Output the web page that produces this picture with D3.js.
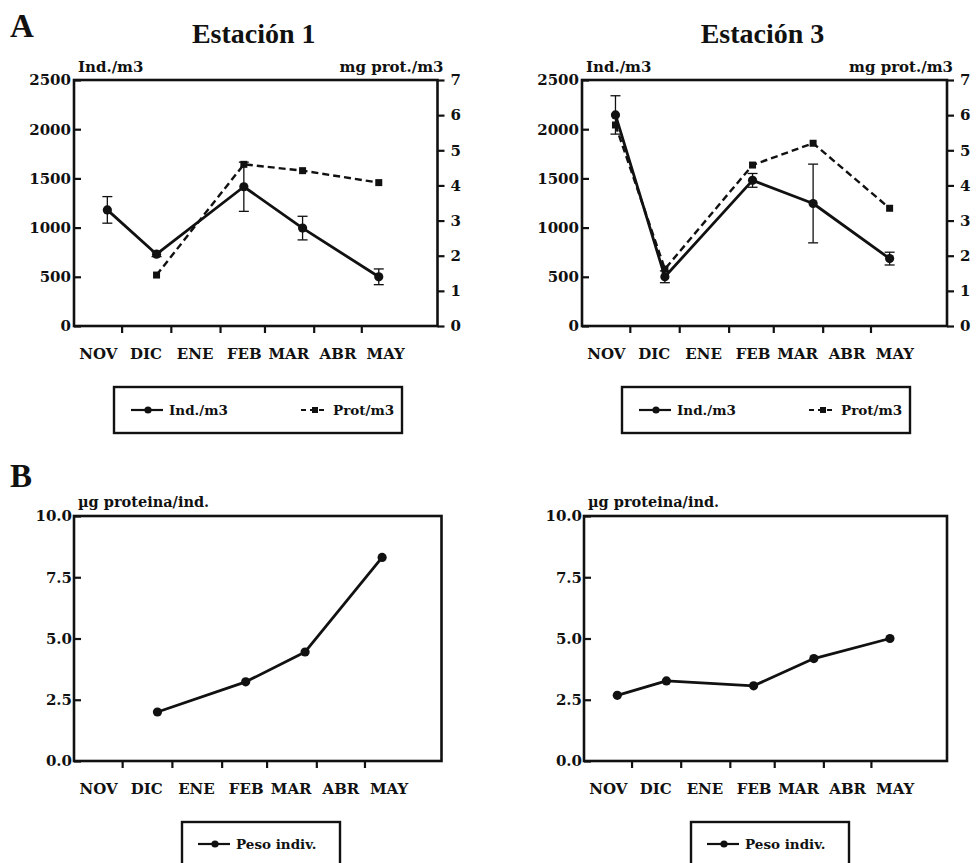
<!DOCTYPE html>
<html><head><meta charset="utf-8">
<script src="https://cdn.jsdelivr.net/npm/d3@7"></script>
<style>
body{margin:0;background:#fff}
svg{display:block}
</style>
</head><body><svg id="c" width="976" height="863"></svg>
<script>
// ---------- DATA ----------
const months = ["NOV","DIC","ENE","FEB","MAR","ABR","MAY"];
// sampling dates (season year is nominal; only day-of-season matters)
const datesInd1 = ["1990-11-22","1990-12-23","1991-02-16","1991-03-25","1991-05-12"];
const ind1 = [1180, 730, 1415, 995, 500];
const ind1Err = [135, 25, 250, 120, 80];
const datesProt1 = ["1990-12-23","1991-02-16","1991-03-25","1991-05-12"];
const prot1 = [1.45, 4.60, 4.42, 4.08];

const dates3 = ["1990-11-22","1990-12-23","1991-02-16","1991-03-26","1991-05-13"];
const ind3 = [2145, 500, 1480, 1245, 685];
const ind3Err = [195, 60, 70, 400, 65];
const prot3 = [5.72, 1.62, 4.58, 5.20, 3.35];

const datesPeso1 = ["1990-12-23","1991-02-16","1991-03-25","1991-05-12"];
const peso1 = [2.0, 3.23, 4.45, 8.31];
const datesPeso3 = ["1990-11-22","1990-12-23","1991-02-16","1991-03-26","1991-05-13"];
const peso3 = [2.68, 3.27, 3.07, 4.18, 5.0];

const indTicks = [0, 500, 1000, 1500, 2000, 2500];
const protTicks = [0, 1, 2, 3, 4, 5, 6, 7];
const pesoTicks = [0, 2.5, 5, 7.5, 10];
const titles = ["Estación 1", "Estación 3"];
const panelLetters = ["A", "B"];
const legendTop = ["Ind./m3", "Prot/m3"];
const legendBottom = ["Peso indiv."];
const yLabelInd = "Ind./m3", yLabelProt = "mg prot./m3", yLabelPeso = "µg proteina/ind.";

// ---------- SETUP ----------
const parse = d3.timeParse("%Y-%m-%d");
const seasonStart = parse("1990-11-01"), seasonEnd = parse("1991-06-18");
const monthBounds = d3.timeMonth.range(parse("1990-12-01"), parse("1991-05-02"));
const monthMids = months.map((m, i) => d3.timeDay.offset(d3.timeMonth.offset(seasonStart, i), 15));
const FONT = "DejaVu Serif", TFONT = "Liberation Serif";
const INK = "#111";

const svg = d3.select("#c");
svg.append("rect").attr("width", 976).attr("height", 863).attr("fill", "#fff");

function styleAxis(a, size) {
  a.attr("font-family", FONT).attr("font-size", size).attr("font-weight", "bold");
  a.select(".domain").remove();
  a.selectAll("line").attr("stroke", INK).attr("stroke-width", 2.2);
  a.selectAll("text").attr("fill", INK);
}

function panel(b) {
  const g = svg.append("g");
  const x = d3.scaleTime().domain([seasonStart, seasonEnd]).range([b.x0, b.x1]);
  g.append("g").attr("transform", `translate(0,${b.y1})`)
    .call(d3.axisBottom(x).tickValues(monthBounds).tickSize(7).tickFormat(""))
    .call(a => styleAxis(a, 15));
  g.append("g").attr("transform", `translate(0,${b.y1})`)
    .call(d3.axisBottom(x).tickValues(monthMids).tickSize(0).tickPadding(22).tickFormat((d, i) => months[i]))
    .call(a => styleAxis(a, 15));
  return {g, x};
}

function frame(g, b) {
  g.append("rect").attr("x", b.x0).attr("y", b.y0).attr("width", b.x1 - b.x0).attr("height", b.y1 - b.y0)
    .attr("fill", "none").attr("stroke", INK).attr("stroke-width", 2.6);
}

function text(g, x, y, s, size, anchor, fam) {
  return g.append("text").attr("x", x).attr("y", y).text(s)
    .attr("font-family", fam || FONT).attr("font-weight", "bold").attr("font-size", size)
    .attr("text-anchor", anchor || "start").attr("fill", INK);
}

function series(g, x, y, dates, vals, opts) {
  const pts = dates.map((d, i) => ({d: parse(d), v: vals[i], e: opts.err ? opts.err[i] : null}));
  const line = d3.line().x(p => x(p.d)).y(p => y(p.v));
  g.append("path").datum(pts).attr("d", line).attr("fill", "none").attr("stroke", INK)
    .attr("stroke-width", opts.dash ? 2.4 : 2.8).attr("stroke-dasharray", opts.dash ? "7,4" : null)
    .attr("stroke-linejoin", "round");
  if (opts.err) {
    const eg = g.append("g").attr("stroke", INK).attr("stroke-width", 1.3);
    pts.forEach(p => {
      const cx = x(p.d);
      eg.append("line").attr("x1", cx).attr("x2", cx).attr("y1", y(p.v - p.e)).attr("y2", y(p.v + p.e));
      [p.v - p.e, p.v + p.e].forEach(v => eg.append("line").attr("x1", cx - 5).attr("x2", cx + 5).attr("y1", y(v)).attr("y2", y(v)));
    });
  }
  if (opts.square) {
    g.selectAll(null).data(pts).join("rect").attr("x", p => x(p.d) - 3.5).attr("y", p => y(p.v) - 3.5)
      .attr("width", 7).attr("height", 7).attr("fill", INK);
  } else {
    g.selectAll(null).data(pts).join("circle").attr("cx", p => x(p.d)).attr("cy", p => y(p.v))
      .attr("r", 4.6).attr("fill", INK);
  }
}

function legendItem(g, x0, x1, y, dash, square, label) {
  g.append("line").attr("x1", x0).attr("x2", x1).attr("y1", y).attr("y2", y).attr("stroke", INK)
    .attr("stroke-width", 2.2).attr("stroke-dasharray", dash ? "5,4" : null);
  const cx = (x0 + x1) / 2 + 1;
  if (square) g.append("rect").attr("x", cx - 3).attr("y", y - 3).attr("width", 6).attr("height", 6).attr("fill", INK);
  else g.append("circle").attr("cx", cx).attr("cy", y).attr("r", 3.6).attr("fill", INK);
  text(g, x1 + 6, y + 5, label, 13.5);
}

// ---------- TOP PANELS (A) ----------
const topPanels = [
  {b: {x0: 74, x1: 437.5, y0: 80, y1: 326}, dInd: datesInd1, ind: ind1, err: ind1Err, dProt: datesProt1, prot: prot1, lx: 114},
  {b: {x0: 582, x1: 947, y0: 80, y1: 326}, dInd: dates3, ind: ind3, err: ind3Err, dProt: dates3, prot: prot3, lx: 622}
];
topPanels.forEach((p, k) => {
  const b = p.b;
  const {g, x} = panel(b);
  const yL = d3.scaleLinear().domain([0, 2500]).range([b.y1, b.y0]);
  const yR = d3.scaleLinear().domain([0, 7]).range([b.y1, b.y0]);
  g.append("g").attr("transform", `translate(${b.x0},0)`)
    .call(d3.axisLeft(yL).tickValues(indTicks).tickSize(-7).tickPadding(3).tickFormat(d3.format("d")))
    .call(a => styleAxis(a, 15));
  g.append("g").attr("transform", `translate(${b.x1},0)`)
    .call(d3.axisRight(yR).tickValues(protTicks).tickSize(7).tickPadding(6).tickFormat(d3.format("d")))
    .call(a => styleAxis(a, 15));
  frame(g, b);
  series(g, x, yR, p.dProt, p.prot, {dash: true, square: true});
  series(g, x, yL, p.dInd, p.ind, {err: p.err});
  text(g, b.x0 + 4, 72, yLabelInd, 15);
  text(g, b.x1 + 6, 72, yLabelProt, 15, "end");
  text(g, (b.x0 + b.x1) / 2 - 2, 43, titles[k], 28, "middle", TFONT);
  const ly = 387;
  g.append("rect").attr("x", p.lx).attr("y", ly).attr("width", 288).attr("height", 46)
    .attr("fill", "none").attr("stroke", INK).attr("stroke-width", 2.4);
  legendItem(g, p.lx + 17, p.lx + 49, ly + 23, false, false, legendTop[0]);
  legendItem(g, p.lx + 187, p.lx + 213, ly + 23, true, true, legendTop[1]);
});

// ---------- BOTTOM PANELS (B) ----------
const botPanels = [
  {b: {x0: 74, x1: 441.5, y0: 516, y1: 761}, d: datesPeso1, v: peso1, lx: 182},
  {b: {x0: 584, x1: 947, y0: 516, y1: 761}, d: datesPeso3, v: peso3, lx: 691}
];
botPanels.forEach(p => {
  const b = p.b;
  const {g, x} = panel(b);
  const y = d3.scaleLinear().domain([0, 10]).range([b.y1, b.y0]);
  g.append("g").attr("transform", `translate(${b.x0},0)`)
    .call(d3.axisLeft(y).tickValues(pesoTicks).tickSize(-7).tickPadding(2).tickFormat(d3.format(".1f")))
    .call(a => styleAxis(a, 15));
  frame(g, b);
  series(g, x, y, p.d, p.v, {});
  text(g, b.x0 + 4, 507, yLabelPeso, 14.5);
  const ly = 822;
  g.append("rect").attr("x", p.lx).attr("y", ly).attr("width", 158).attr("height", 50)
    .attr("fill", "none").attr("stroke", INK).attr("stroke-width", 2.4);
  legendItem(g, p.lx + 16, p.lx + 48, ly + 22, false, false, legendBottom[0]);
});

text(svg, 10, 37, panelLetters[0], 33, "start", TFONT);
text(svg, 10, 487, panelLetters[1], 33, "start", TFONT);
</script>
</body></html>
